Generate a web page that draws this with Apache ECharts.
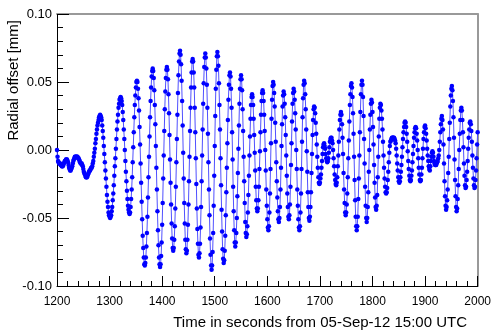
<!DOCTYPE html>
<html>
<head>
<meta charset="utf-8">
<script src="https://cdn.jsdelivr.net/npm/echarts@6/dist/echarts.min.js"></script>
<style>
html,body{margin:0;padding:0;background:#fff;}
#chart{width:494px;height:331px;}
</style>
</head>
<body>
<div id="chart"></div>
<script>
// Sampling grid (seconds from 05-Sep-12 15:00 UTC)
var timeStart = 1200;
var timeStep = 1;
// Radial offset [mm], one value per second, 1200 ... 2000
var radialOffset = [
 0.000,-0.005,-0.008,-0.009,-0.010,-0.010,-0.010,-0.011,-0.011,-0.012,
 -0.012,-0.012,-0.011,-0.010,-0.009,-0.008,-0.008,-0.007,-0.007,-0.007,
 -0.008,-0.009,-0.011,-0.013,-0.014,-0.015,-0.015,-0.014,-0.013,-0.012,
 -0.010,-0.008,-0.007,-0.006,-0.005,-0.005,-0.005,-0.005,-0.005,-0.005,
 -0.006,-0.006,-0.007,-0.008,-0.009,-0.010,-0.010,-0.010,-0.011,-0.012,
 -0.014,-0.016,-0.017,-0.018,-0.019,-0.020,-0.020,-0.020,-0.019,-0.018,
 -0.017,-0.016,-0.015,-0.015,-0.014,-0.013,-0.013,-0.012,-0.010,-0.008,
 -0.005,-0.002,0.001,0.005,0.008,0.012,0.015,0.018,0.020,0.022,
 0.024,0.025,0.026,0.025,0.024,0.022,0.018,0.014,0.009,0.003,
 -0.003,-0.009,-0.015,-0.021,-0.027,-0.033,-0.038,-0.042,-0.046,-0.048,
 -0.049,-0.050,-0.049,-0.048,-0.045,-0.042,-0.037,-0.032,-0.026,-0.019,
 -0.012,-0.006,0.001,0.008,0.015,0.021,0.026,0.031,0.034,0.037,
 0.038,0.039,0.038,0.036,0.033,0.028,0.022,0.015,0.008,0.000,
 -0.008,-0.016,-0.023,-0.030,-0.036,-0.041,-0.044,-0.046,-0.047,-0.046,
 -0.042,-0.036,-0.029,-0.020,-0.009,0.002,0.013,0.024,0.033,0.040,
 0.046,0.050,0.051,0.050,0.045,0.038,0.029,0.017,0.004,-0.010,
 -0.024,-0.038,-0.051,-0.063,-0.072,-0.079,-0.084,-0.085,-0.083,-0.079,
 -0.071,-0.061,-0.049,-0.035,-0.020,-0.005,0.010,0.024,0.036,0.046,
 0.054,0.058,0.060,0.058,0.053,0.044,0.033,0.019,0.003,-0.013,
 -0.029,-0.045,-0.059,-0.070,-0.079,-0.084,-0.086,-0.084,-0.078,-0.068,
 -0.055,-0.039,-0.021,-0.004,0.014,0.030,0.043,0.053,0.059,0.061,
 0.059,0.052,0.041,0.027,0.011,-0.007,-0.024,-0.040,-0.054,-0.065,
 -0.072,-0.074,-0.072,-0.066,-0.056,-0.043,-0.027,-0.009,0.008,0.026,
 0.042,0.055,0.065,0.071,0.073,0.070,0.063,0.051,0.036,0.018,
 -0.002,-0.021,-0.039,-0.054,-0.066,-0.073,-0.076,-0.074,-0.066,-0.055,
 -0.040,-0.023,-0.005,0.014,0.031,0.046,0.057,0.065,0.067,0.065,
 0.057,0.046,0.031,0.013,-0.006,-0.025,-0.043,-0.058,-0.069,-0.077,
 -0.079,-0.076,-0.069,-0.057,-0.042,-0.023,-0.004,0.015,0.034,0.049,
 0.061,0.068,0.071,0.068,0.060,0.048,0.031,0.012,-0.009,-0.029,
 -0.048,-0.065,-0.077,-0.085,-0.088,-0.085,-0.075,-0.061,-0.041,-0.019,
 0.003,0.025,0.045,0.059,0.069,0.072,0.069,0.062,0.049,0.033,
 0.015,-0.006,-0.026,-0.044,-0.060,-0.073,-0.080,-0.083,-0.081,-0.074,
 -0.063,-0.048,-0.031,-0.013,0.005,0.022,0.037,0.048,0.055,0.057,
 0.054,0.045,0.031,0.013,-0.007,-0.027,-0.045,-0.059,-0.068,-0.071,
 -0.068,-0.061,-0.050,-0.034,-0.017,0.001,0.018,0.034,0.045,0.052,
 0.055,0.052,0.044,0.030,0.014,-0.005,-0.023,-0.039,-0.053,-0.061,
 -0.064,-0.062,-0.056,-0.046,-0.033,-0.019,-0.004,0.010,0.023,0.033,
 0.039,0.041,0.039,0.033,0.023,0.011,-0.002,-0.015,-0.027,-0.037,
 -0.043,-0.045,-0.043,-0.037,-0.027,-0.014,-0.001,0.013,0.026,0.036,
 0.042,0.044,0.042,0.036,0.026,0.014,0.000,-0.015,-0.029,-0.041,
 -0.051,-0.057,-0.059,-0.056,-0.046,-0.032,-0.014,0.005,0.023,0.037,
 0.047,0.050,0.048,0.042,0.032,0.020,0.006,-0.009,-0.023,-0.035,
 -0.045,-0.051,-0.053,-0.050,-0.042,-0.029,-0.013,0.003,0.019,0.032,
 0.040,0.043,0.041,0.034,0.024,0.011,-0.004,-0.019,-0.032,-0.042,
 -0.049,-0.051,-0.048,-0.040,-0.027,-0.011,0.005,0.021,0.034,0.042,
 0.045,0.043,0.037,0.027,0.015,0.000,-0.014,-0.029,-0.041,-0.051,
 -0.057,-0.059,-0.056,-0.046,-0.032,-0.014,0.006,0.024,0.038,0.048,
 0.051,0.049,0.041,0.030,0.015,-0.001,-0.016,-0.031,-0.042,-0.050,
 -0.052,-0.049,-0.042,-0.031,-0.017,-0.003,0.011,0.022,0.030,0.032,
 0.031,0.027,0.020,0.012,0.004,-0.005,-0.013,-0.020,-0.024,-0.025,
 -0.024,-0.021,-0.018,-0.013,-0.008,-0.003,0.002,0.004,0.005,0.003,
 0.001,-0.003,-0.006,-0.008,-0.009,-0.008,-0.006,-0.002,0.002,0.006,
 0.008,0.009,0.009,0.007,0.005,0.000,-0.006,-0.012,-0.018,-0.022,
 -0.025,-0.026,-0.024,-0.020,-0.012,-0.004,0.006,0.015,0.022,0.026,
 0.028,0.026,0.019,0.009,-0.003,-0.017,-0.029,-0.039,-0.046,-0.048,
 -0.046,-0.040,-0.032,-0.020,-0.006,0.007,0.021,0.033,0.041,0.047,
 0.049,0.046,0.039,0.027,0.012,-0.005,-0.022,-0.037,-0.049,-0.056,
 -0.059,-0.056,-0.049,-0.036,-0.021,-0.004,0.013,0.028,0.041,0.048,
 0.051,0.048,0.039,0.025,0.008,-0.010,-0.027,-0.041,-0.050,-0.053,
 -0.050,-0.042,-0.031,-0.016,0.000,0.015,0.026,0.034,0.037,0.035,
 0.028,0.017,0.004,-0.011,-0.024,-0.035,-0.042,-0.044,-0.041,-0.033,
 -0.020,-0.005,0.010,0.023,0.031,0.034,0.033,0.029,0.023,0.015,
 0.006,-0.004,-0.013,-0.021,-0.027,-0.031,-0.032,-0.031,-0.028,-0.022,
 -0.016,-0.009,-0.002,0.003,0.006,0.007,0.008,0.009,0.009,0.009,
 0.009,0.009,0.008,0.007,0.005,0.001,-0.004,-0.010,-0.015,-0.020,
 -0.023,-0.024,-0.023,-0.020,-0.016,-0.011,-0.005,0.002,0.008,0.013,
 0.017,0.020,0.021,0.020,0.017,0.012,0.006,-0.001,-0.008,-0.014,
 -0.019,-0.022,-0.023,-0.022,-0.019,-0.015,-0.009,-0.003,0.003,0.009,
 0.013,0.016,0.017,0.016,0.012,0.007,0.000,-0.006,-0.013,-0.018,
 -0.022,-0.023,-0.022,-0.018,-0.013,-0.006,0.001,0.008,0.013,0.017,
 0.018,0.016,0.012,0.007,0.001,-0.004,-0.008,-0.012,-0.014,-0.015,
 -0.012,-0.008,-0.005,-0.002,-0.001,-0.002,-0.005,-0.008,-0.010,-0.011,
 -0.011,-0.011,-0.010,-0.009,-0.008,-0.006,-0.004,0.000,0.006,0.013,
 0.019,0.023,0.025,0.022,0.015,0.004,-0.010,-0.023,-0.034,-0.041,
 -0.044,-0.042,-0.037,-0.029,-0.017,-0.005,0.008,0.020,0.032,0.040,
 0.045,0.047,0.044,0.036,0.024,0.009,-0.007,-0.022,-0.034,-0.042,
 -0.045,-0.043,-0.036,-0.026,-0.014,0.000,0.012,0.022,0.029,0.031,
 0.029,0.022,0.013,0.002,-0.010,-0.019,-0.026,-0.028,-0.027,-0.022,
 -0.016,-0.008,0.001,0.009,0.015,0.020,0.021,0.019,0.014,0.006,
 -0.004,-0.013,-0.021,-0.026,-0.028,-0.027,-0.022,-0.015,-0.006,0.004,
 0.013
];
// Axis ranges and ticks
var xMin = 1200, xMax = 2000, xInterval = 100;
var yMin = -0.10, yMax = 0.10, yInterval = 0.05;
var xTitle = 'Time in seconds from 05-Sep-12 15:00 UTC';
var yTitle = 'Radial offset [mm]';

var seriesData = radialOffset.map(function (v, i) { return [timeStart + i * timeStep, v]; });

var FONT = '"Liberation Sans", Arial, sans-serif';
var chart = echarts.init(document.getElementById('chart'), null, {renderer: 'canvas'});
chart.setOption({
  animation: false,
  backgroundColor: '#fff',
  grid: {left: 57, right: 12, top: 14, bottom: 45, containLabel: false},
  xAxis: [{
    type: 'value', min: xMin, max: xMax, interval: xInterval,
    axisLine: {show: true, onZero: false, lineStyle: {color: '#000', width: 1}},
    axisTick: {show: true, inside: true, length: 10, lineStyle: {color: '#000'}},
    minorTick: {show: true, splitNumber: 5, length: 5, lineStyle: {color: '#000'}},
    splitLine: {show: false},
    axisLabel: {color: '#000', fontSize: 12, fontFamily: FONT, margin: 10,
      formatter: function (v) { return String(Math.round(v)); }}
  }, {
    type: 'value', position: 'top', min: xMin, max: xMax,
    axisLine: {show: true, onZero: false, lineStyle: {color: '#999', width: 2}},
    axisTick: {show: false}, axisLabel: {show: false}, splitLine: {show: false}
  }],
  yAxis: [{
    type: 'value', min: yMin, max: yMax, interval: yInterval,
    axisLine: {show: true, onZero: false, lineStyle: {color: '#000', width: 1}},
    axisTick: {show: true, inside: true, length: 12, lineStyle: {color: '#000'}},
    minorTick: {show: true, splitNumber: 5, length: 6, lineStyle: {color: '#000'}},
    splitLine: {show: false},
    axisLabel: {color: '#000', fontSize: 13, fontFamily: FONT, margin: 5,
      formatter: function (v) { return (Math.abs(v) < 1e-9 ? 0 : v).toFixed(2); }}
  }, {
    type: 'value', position: 'right', min: yMin, max: yMax,
    axisLine: {show: true, onZero: false, lineStyle: {color: '#999', width: 2}},
    axisTick: {show: false}, axisLabel: {show: false}, splitLine: {show: false}
  }],
  series: [{
    type: 'line',
    xAxisIndex: 0, yAxisIndex: 0,
    data: seriesData,
    showSymbol: true,
    showAllSymbol: true,
    symbol: 'circle',
    symbolSize: 4.5,
    itemStyle: {color: '#0000ff'},
    lineStyle: {color: '#5050ff', width: 1},
    silent: true
  }],
  graphic: [{
    type: 'text', x: 467, y: 323,
    style: {text: xTitle, font: '15px ' + FONT, fill: '#000', align: 'right', verticalAlign: 'middle', textAlign: 'right', textVerticalAlign: 'middle'}
  }, {
    type: 'text', x: 14, y: 20, rotation: Math.PI / 2,
    style: {text: yTitle, font: '15px ' + FONT, fill: '#000', align: 'right', verticalAlign: 'middle', textAlign: 'right', textVerticalAlign: 'middle'}
  }]
});
</script>
</body>
</html>
